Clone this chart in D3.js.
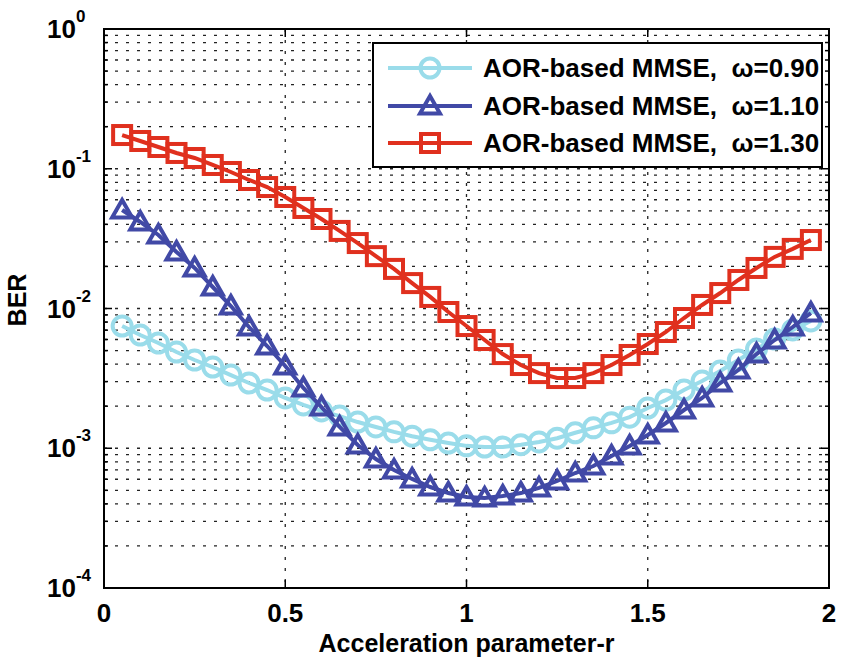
<!DOCTYPE html>
<html>
<head>
<meta charset="utf-8">
<script src="https://cdn.jsdelivr.net/npm/d3@7/dist/d3.min.js"></script>
<style>
  body { margin: 0; background: #fff; }
  svg { display: block; font-family: "Liberation Sans", Arial, sans-serif; font-weight: bold; }
  text { white-space: pre; }
</style>
</head>
<body>
<svg width="843" height="660"></svg>
<script>
// acceleration parameter r
const rValues = [0.05, 0.10, 0.15, 0.20, 0.25, 0.30, 0.35, 0.40, 0.45, 0.50,
                 0.55, 0.60, 0.65, 0.70, 0.75, 0.80, 0.85, 0.90, 0.95, 1.00,
                 1.05, 1.10, 1.15, 1.20, 1.25, 1.30, 1.35, 1.40, 1.45, 1.50,
                 1.55, 1.60, 1.65, 1.70, 1.75, 1.80, 1.85, 1.90, 1.95];

// BER, omega = 0.90
const berW090 = [0.00749, 0.00646, 0.00566, 0.00488, 0.00428, 0.00381, 0.00334, 0.00293, 0.00261, 0.00229,
                 0.00204, 0.00185, 0.00170, 0.00154, 0.00142, 0.00131, 0.00122, 0.00115, 0.00109, 0.00104,
                 0.00102, 0.00102, 0.00106, 0.00111, 0.00118, 0.00129, 0.00140, 0.00152, 0.00167, 0.00194,
                 0.00221, 0.00261, 0.00303, 0.00357, 0.00428, 0.00513, 0.00605, 0.00702, 0.00814];

// BER, omega = 1.10
const berW110 = [0.0507, 0.0416, 0.0336, 0.0254, 0.0195, 0.01425, 0.01042, 0.00737, 0.00539, 0.00388,
                 0.00270, 0.00197, 0.00142, 0.001055, 0.000838, 0.000699, 0.000603, 0.000528, 0.000478, 0.000448,
                 0.000441, 0.000455, 0.000478, 0.000520, 0.000583, 0.000665, 0.000746, 0.000880, 0.001038, 0.001244,
                 0.001516, 0.001878, 0.002289, 0.002930, 0.003630, 0.00472, 0.00595, 0.00737, 0.00929];

// BER, omega = 1.30
const berW130 = [0.1743, 0.158, 0.1431, 0.1297, 0.1194, 0.1064, 0.0948, 0.0831, 0.0740, 0.0628,
                 0.0524, 0.0437, 0.0359, 0.0294, 0.0237, 0.0192, 0.0152, 0.0121, 0.00944, 0.00749,
                 0.00595, 0.00472, 0.00394, 0.00345, 0.00318, 0.00318, 0.00345, 0.00394, 0.00465, 0.00557,
                 0.00679, 0.00855, 0.0106, 0.0129, 0.0160, 0.0195, 0.0234, 0.0267, 0.0309];

const seriesNames = ["AOR-based MMSE,  ", "AOR-based MMSE,  ", "AOR-based MMSE,  "];
const omegaLabels = ["\u03c9=0.90", "\u03c9=1.10", "\u03c9=1.30"];
const xTicks = [0, 0.5, 1, 1.5, 2];
const xGrid = [0.5, 1, 1.5];
const yDecades = [-4, -3, -2, -1, 0];

const svg = d3.select("svg");
const plotLeft = 104, plotRight = 829, plotTop = 29, plotBottom = 588;

const x = d3.scaleLinear().domain([0, 2]).range([plotLeft, plotRight]);
const y = d3.scaleLog().domain([1e-4, 1]).range([plotBottom, plotTop]);

// minor values for each decade
const yMinor = [];
yDecades.slice(0, -1).forEach(e => {
	for (let k = 1; k <= 9; k++) yMinor.push(k * Math.pow(10, e));
});
yMinor.push(1);

//grid
const grid = svg.append("g")
	.attr("stroke", "#222")
	.attr("stroke-width", 1.3)
	.attr("stroke-dasharray", "3,8");

grid.selectAll(".gy").data(yMinor.filter(v => v > 1e-4 && v < 1))
	.enter().append("line")
	.attr("x1", plotLeft).attr("x2", plotRight)
	.attr("y1", d => y(d)).attr("y2", d => y(d));

grid.selectAll(".gx").data(xGrid)
	.enter().append("line")
	.attr("x1", d => x(d)).attr("x2", d => x(d))
	.attr("y1", plotTop).attr("y2", plotBottom);

//ticks inside the box
const ticks = svg.append("g").attr("stroke", "#000").attr("stroke-width", 1.5);
yMinor.forEach(v => {
	const major = Math.abs(Math.log10(v) - Math.round(Math.log10(v))) < 1e-9;
	const len = major ? 8 : 4;
	ticks.append("line").attr("x1", plotLeft).attr("x2", plotLeft + len).attr("y1", y(v)).attr("y2", y(v));
	ticks.append("line").attr("x1", plotRight).attr("x2", plotRight - len).attr("y1", y(v)).attr("y2", y(v));
});
xTicks.forEach(v => {
	ticks.append("line").attr("x1", x(v)).attr("x2", x(v)).attr("y1", plotBottom).attr("y2", plotBottom - 8);
	ticks.append("line").attr("x1", x(v)).attr("x2", x(v)).attr("y1", plotTop).attr("y2", plotTop + 8);
});

const series = [
	{ values: berW090, color: "#9adcea", marker: "circle" },
	{ values: berW110, color: "#4149a6", marker: "triangle" },
	{ values: berW130, color: "#e0301e", marker: "square" }
];

const line = d3.line()
	.x(d => x(d[0]))
	.y(d => y(d[1]));

function drawMarker(g, type, color) {
	if (type === "circle") {
		g.append("circle").attr("r", 9.5);
	} else if (type === "square") {
		g.append("rect").attr("x", -9).attr("y", -9).attr("width", 18).attr("height", 18);
	} else {
		g.append("path").attr("d", "M0,-10L10,7.5L-10,7.5Z");
	}
	g.attr("fill", "none").attr("stroke", color).attr("stroke-width", 4);
}

series.forEach(s => {
	const pts = rValues.map((r, i) => [r, s.values[i]]);
	svg.append("path")
		.datum(pts)
		.attr("fill", "none")
		.attr("stroke", s.color)
		.attr("stroke-width", 4)
		.attr("d", line);
	pts.forEach(p => {
		const g = svg.append("g").attr("transform", `translate(${x(p[0])},${y(p[1])})`);
		drawMarker(g, s.marker, s.color);
	});
});

//box
svg.append("rect")
	.attr("x", plotLeft).attr("y", plotTop)
	.attr("width", plotRight - plotLeft).attr("height", plotBottom - plotTop)
	.attr("fill", "none").attr("stroke", "#000").attr("stroke-width", 2);

//x labels
svg.selectAll(".xl").data(xTicks)
	.enter().append("text")
	.attr("x", d => x(d)).attr("y", 622)
	.attr("text-anchor", "middle")
	.attr("font-size", 26)
	.text(d => d);

svg.append("text")
	.attr("x", (plotLeft + plotRight) / 2).attr("y", 652)
	.attr("text-anchor", "middle")
	.attr("font-size", 25)
	.text("Acceleration parameter-r");

//y labels
yDecades.forEach(e => {
	const t = svg.append("text")
		.attr("x", 47).attr("y", y(Math.pow(10, e)) + 9)
		.attr("font-size", 26);
	t.append("tspan").text("10");
	t.append("tspan").attr("dy", -16).attr("font-size", 17).text(e === 0 ? "0" : "-" + (-e));
});

svg.append("text")
	.attr("transform", "translate(26,300) rotate(-90)")
	.attr("text-anchor", "middle")
	.attr("font-size", 25)
	.text("BER");

//legend
const legend = svg.append("g");
legend.append("rect")
	.attr("x", 373).attr("y", 43)
	.attr("width", 449).attr("height", 124)
	.attr("fill", "#fff").attr("stroke", "#000").attr("stroke-width", 2);

const legendRows = [68, 106, 143];
series.forEach((s, i) => {
	const ly = legendRows[i];
	legend.append("line")
		.attr("x1", 388).attr("x2", 472).attr("y1", ly).attr("y2", ly)
		.attr("stroke", s.color).attr("stroke-width", 4);
	const g = legend.append("g").attr("transform", `translate(430,${ly})`);
	drawMarker(g, s.marker, s.color);
	const t = legend.append("text")
		.attr("x", 483).attr("y", ly + 9)
		.attr("font-size", 26);
	t.append("tspan").text(seriesNames[i]);
	t.append("tspan").text(omegaLabels[i]);
});
</script>
</body>
</html>
